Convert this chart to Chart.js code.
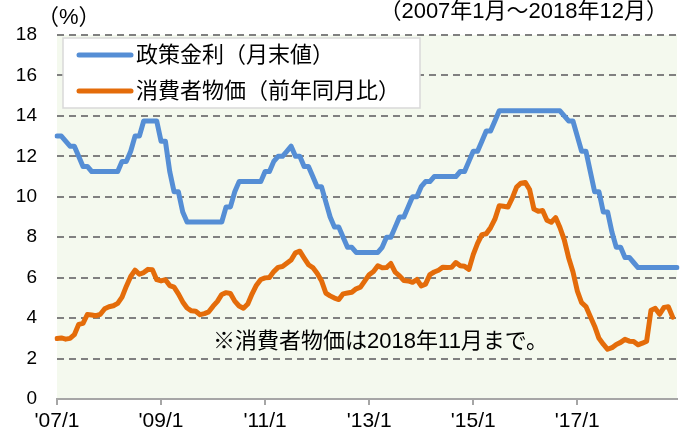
<!DOCTYPE html>
<html><head><meta charset="utf-8">
<script src="https://cdn.jsdelivr.net/npm/chart.js@4/dist/chart.umd.min.js"></script>
<style>html,body{margin:0;padding:0;background:#fff}#wrap{width:684px;height:437px}</style>
</head><body><div id="wrap"><canvas id="c" width="684" height="437"></canvas></div>
<script>
// ---- data ----
const years = [2007,2008,2009,2010,2011,2012,2013,2014,2015,2016,2017,2018];
const months = [];
years.forEach(y => { for (let m = 1; m <= 12; m++) months.push("'" + String(y).slice(2) + "/" + m); });
const tickLabels = ["'07/1","'09/1","'11/1","'13/1","'15/1","'17/1"];
const yTicks = [0,2,4,6,8,10,12,14,16,18];

const policyRate = [
  13.00,13.00,12.75,12.50,12.50,12.00,11.50,11.50,11.25,11.25,11.25,11.25,
  11.25,11.25,11.25,11.75,11.75,12.25,13.00,13.00,13.75,13.75,13.75,13.75,
  12.75,12.75,11.25,10.25,10.25,9.25,8.75,8.75,8.75,8.75,8.75,8.75,
  8.75,8.75,8.75,9.50,9.50,10.25,10.75,10.75,10.75,10.75,10.75,10.75,
  11.25,11.25,11.75,12.00,12.00,12.25,12.50,12.00,12.00,11.50,11.50,11.00,
  10.50,10.50,9.75,9.00,8.50,8.50,8.00,7.50,7.50,7.25,7.25,7.25,
  7.25,7.25,7.25,7.50,8.00,8.00,8.50,9.00,9.00,9.50,10.00,10.00,
  10.50,10.75,10.75,11.00,11.00,11.00,11.00,11.00,11.00,11.25,11.25,11.75,
  12.25,12.25,12.75,13.25,13.25,13.75,14.25,14.25,14.25,14.25,14.25,14.25,
  14.25,14.25,14.25,14.25,14.25,14.25,14.25,14.25,14.25,14.00,13.75,13.75,
  13.00,12.25,12.25,11.25,10.25,10.25,9.25,9.25,8.25,7.50,7.50,7.00,
  7.00,6.75,6.50,6.50,6.50,6.50,6.50,6.50,6.50,6.50,6.50,6.50
];
const cpiYoY = [
  2.99,3.02,2.96,3.00,3.18,3.69,3.74,4.18,4.15,4.12,4.19,4.46,
  4.56,4.61,4.73,5.04,5.58,6.06,6.37,6.17,6.25,6.41,6.39,5.90,
  5.84,5.90,5.61,5.53,5.20,4.80,4.50,4.36,4.34,4.17,4.22,4.31,
  4.59,4.83,5.17,5.26,5.22,4.84,4.60,4.49,4.70,5.20,5.63,5.91,
  5.99,6.01,6.30,6.51,6.55,6.71,6.87,7.23,7.31,6.97,6.64,6.50,
  6.22,5.85,5.24,5.10,4.99,4.92,5.20,5.24,5.28,5.45,5.53,5.84,
  6.15,6.31,6.59,6.49,6.50,6.70,6.27,6.09,5.86,5.84,5.77,5.91,
  5.59,5.68,6.15,6.28,6.37,6.52,6.50,6.51,6.75,6.59,6.56,6.41,
  7.14,7.70,8.13,8.17,8.47,8.89,9.56,9.53,9.49,9.93,10.48,10.67,
  10.71,10.36,9.39,9.28,9.32,8.84,8.74,8.97,8.48,7.87,6.99,6.29,
  5.35,4.76,4.57,4.08,3.60,3.00,2.71,2.46,2.54,2.70,2.80,2.95,
  2.86,2.84,2.68,2.76,2.86,4.39,4.48,4.19,4.53,4.56,4.05
];
const seriesNames = ["政策金利（月末値）","消費者物価（前年同月比）"];
const unitText = "（%）";
const periodText = "（2007年1月～2018年12月）";
const noteText = "※消費者物価は2018年11月まで。";
const noteAnchor = { month: "'10/1", value: 2.8 };

// ---- style ----
const FONT = '"Liberation Sans", "Noto Sans CJK JP", sans-serif';
const BLUE = '#558ED5', ORANGE = '#E46C0A', BG = '#F4F9EE', GRID = '#808080';

const extras = {
  id: 'extras',
  beforeDraw(chart) {
    const {ctx, chartArea: a} = chart;
    ctx.save();
    ctx.fillStyle = BG;
    ctx.fillRect(a.left, a.top, a.right - a.left, a.bottom - a.top);
    ctx.restore();
  },
  afterDatasetsDraw(chart) {
    const {ctx, chartArea: a, scales} = chart;
    ctx.save();
    // legend box
    const bx = a.left + 6, by = a.top + 3, bw = 357, bh = 70;
    ctx.fillStyle = '#fff';
    ctx.fillRect(bx, by, bw, bh);
    ctx.strokeStyle = '#D9D9D9';
    ctx.lineWidth = 1.5;
    ctx.strokeRect(bx, by, bw, bh);
    const colors = [BLUE, ORANGE];
    ctx.font = '22px ' + FONT;
    ctx.textBaseline = 'middle';
    ctx.textAlign = 'left';
    seriesNames.forEach((t, i) => {
      const yy = by + 17 + i * 36;
      ctx.strokeStyle = colors[i];
      ctx.lineWidth = 5;
      ctx.lineCap = 'round';
      ctx.beginPath(); ctx.moveTo(bx + 16, yy); ctx.lineTo(bx + 68, yy); ctx.stroke();
      ctx.fillStyle = '#000';
      ctx.fillText(t, bx + 73, yy + 1);
    });
    // note
    const nx = scales.x.getPixelForValue(months.indexOf(noteAnchor.month));
    const ny = scales.y.getPixelForValue(noteAnchor.value);
    ctx.font = '22px ' + FONT;
    ctx.fillStyle = '#000';
    ctx.fillText(noteText, nx, ny);
    // titles
    ctx.font = '22px ' + FONT;
    ctx.fillText(unitText, a.left - 20, 18);
    ctx.textAlign = 'right';
    ctx.fillText(periodText, a.right - 9, 12);
    ctx.restore();
  }
};

new Chart(document.getElementById('c'), {
  type: 'line',
  data: {
    labels: months,
    datasets: [
      { label: seriesNames[0], data: policyRate, borderColor: BLUE, borderWidth: 5, pointRadius: 0, tension: 0, borderJoinStyle: 'round', borderCapStyle: 'round', fill: false },
      { label: seriesNames[1], data: cpiYoY, borderColor: ORANGE, borderWidth: 5, pointRadius: 0, tension: 0, borderJoinStyle: 'round', borderCapStyle: 'round', fill: false }
    ]
  },
  options: {
    responsive: false,
    animation: false,
    devicePixelRatio: 1,
    layout: { padding: { top: 35, right: 7, left: 0, bottom: 0 } },
    plugins: { legend: { display: false }, tooltip: { enabled: false } },
    scales: {
      x: {
        type: 'category',
        offset: false,
        grid: { display: true, drawOnChartArea: false, drawTicks: true, tickLength: 6, color: '#A6A6A6', lineWidth: 2 },
        border: { display: true, color: '#A6A6A6', width: 2 },
        ticks: {
          autoSkip: false, maxRotation: 0, minRotation: 0, padding: 4, color: '#000',
          font: { size: 21, family: FONT },
          callback: (v, i) => tickLabels.includes(months[i]) ? months[i] : null
        },
        afterFit: s => { s.height = 38; }
      },
      y: {
        min: 0, max: 18,
        afterBuildTicks: s => { s.ticks = yTicks.map(v => ({ value: v })); },
        grid: {
          drawTicks: false, lineWidth: 2,
          color: c => (c.tick && c.tick.value === 0) ? 'rgba(0,0,0,0)' : GRID
        },
        border: { display: false, dash: [7, 5] },
        ticks: { padding: 20, color: '#000', font: { size: 19, family: FONT } },
        afterFit: s => { s.width = 57; }
      }
    }
  },
  plugins: [extras]
});
</script>
</body></html>
